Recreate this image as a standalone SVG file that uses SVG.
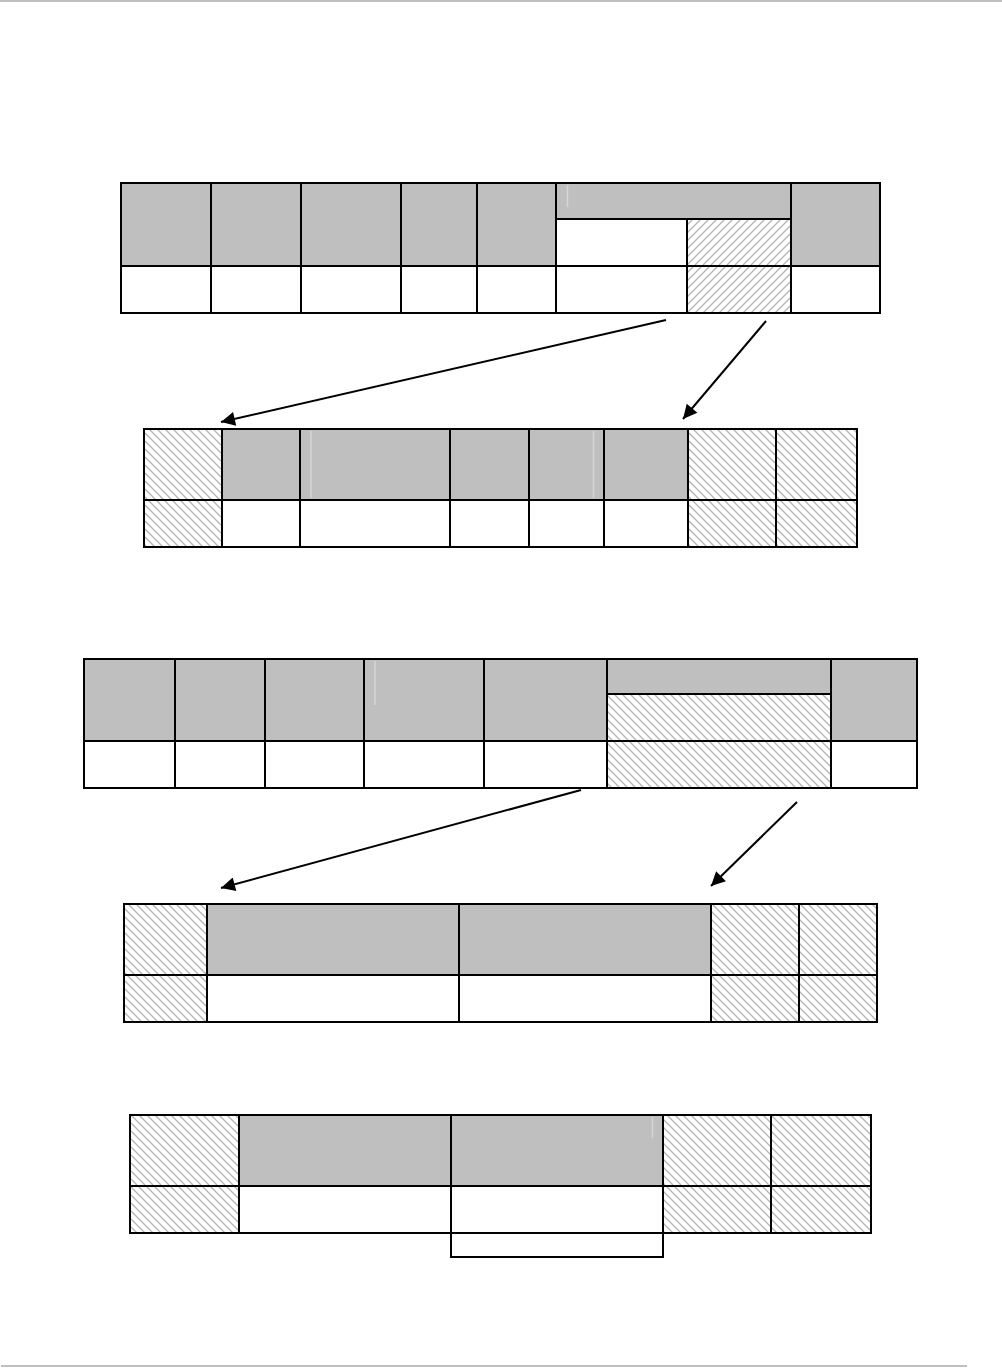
<svg xmlns="http://www.w3.org/2000/svg" width="1002" height="1368" viewBox="0 0 1002 1368">
<defs>
<pattern id="hatchB" patternUnits="userSpaceOnUse" width="8" height="8">
<path d="M-2,-2 L10,10 M-2,6 L2,10 M6,-2 L10,2" stroke="#b3b3b3" stroke-width="1.3" fill="none"/>
</pattern>
<pattern id="hatchF" patternUnits="userSpaceOnUse" width="8" height="8">
<path d="M-2,10 L10,-2 M-2,2 L2,-2 M6,10 L10,6" stroke="#b3b3b3" stroke-width="1.3" fill="none"/>
</pattern>
<marker id="ah" viewBox="0 0 10 10" refX="10" refY="5" markerWidth="9" markerHeight="7" markerUnits="strokeWidth" orient="auto">
<path d="M0,0 L10,5 L0,10 z" fill="#000"/>
</marker>
</defs>
<style>
.g{fill:#bfbfbf;stroke:#000;stroke-width:2}
.w{fill:#fff;stroke:#000;stroke-width:2}
.hb{fill:url(#hatchB);stroke:#000;stroke-width:2}
.hf{fill:url(#hatchF);stroke:#000;stroke-width:2}
.art{stroke:#d6d6d6;stroke-width:1.5}
.con{stroke:#000;stroke-width:2;fill:none;marker-end:url(#ah)}
.rule{fill:#bfbfbf}
</style>
<rect width="1002" height="1368" fill="#fff"/>
<rect class="rule" x="0" y="0" width="1002" height="2"/>
<rect class="rule" x="1" y="1365" width="966" height="2"/>

<g id="table1">
<rect class="g" x="121" y="183" width="90" height="83"/>
<rect class="g" x="211" y="183" width="90" height="83"/>
<rect class="g" x="301" y="183" width="100" height="83"/>
<rect class="g" x="401" y="183" width="76" height="83"/>
<rect class="g" x="477" y="183" width="79" height="83"/>
<rect class="g" x="556" y="183" width="235" height="36"/>
<rect class="w" x="556" y="219" width="131" height="47"/>
<rect class="hf" x="687" y="219" width="104" height="47"/>
<rect class="g" x="791" y="183" width="89" height="83"/>
<rect class="w" x="121" y="266" width="90" height="47"/>
<rect class="w" x="211" y="266" width="90" height="47"/>
<rect class="w" x="301" y="266" width="100" height="47"/>
<rect class="w" x="401" y="266" width="76" height="47"/>
<rect class="w" x="477" y="266" width="79" height="47"/>
<rect class="w" x="556" y="266" width="131" height="47"/>
<rect class="hf" x="687" y="266" width="104" height="47"/>
<rect class="w" x="791" y="266" width="89" height="47"/>
<line class="art" x1="567.5" y1="185" x2="567.5" y2="207"/>
</g>

<g id="table2">
<rect class="hb" x="144" y="429" width="78" height="71"/>
<rect class="g" x="222" y="429" width="78" height="71"/>
<rect class="g" x="300" y="429" width="150" height="71"/>
<rect class="g" x="450" y="429" width="79" height="71"/>
<rect class="g" x="529" y="429" width="75" height="71"/>
<rect class="g" x="604" y="429" width="84" height="71"/>
<rect class="hb" x="688" y="429" width="88" height="71"/>
<rect class="hb" x="776" y="429" width="81" height="71"/>
<rect class="hb" x="144" y="500" width="78" height="47"/>
<rect class="w" x="222" y="500" width="78" height="47"/>
<rect class="w" x="300" y="500" width="150" height="47"/>
<rect class="w" x="450" y="500" width="79" height="47"/>
<rect class="w" x="529" y="500" width="75" height="47"/>
<rect class="w" x="604" y="500" width="84" height="47"/>
<rect class="hb" x="688" y="500" width="88" height="47"/>
<rect class="hb" x="776" y="500" width="81" height="47"/>
<line class="art" x1="311" y1="431" x2="311" y2="498"/>
<line class="art" x1="593.5" y1="431" x2="593.5" y2="498"/>
</g>

<g id="table3">
<rect class="g" x="84" y="659" width="91" height="82"/>
<rect class="g" x="175" y="659" width="90" height="82"/>
<rect class="g" x="265" y="659" width="99" height="82"/>
<rect class="g" x="364" y="659" width="120" height="82"/>
<rect class="g" x="484" y="659" width="123" height="82"/>
<rect class="g" x="607" y="659" width="224" height="35"/>
<rect class="hb" x="607" y="694" width="224" height="47"/>
<rect class="g" x="831" y="659" width="86" height="82"/>
<rect class="w" x="84" y="741" width="91" height="47"/>
<rect class="w" x="175" y="741" width="90" height="47"/>
<rect class="w" x="265" y="741" width="99" height="47"/>
<rect class="w" x="364" y="741" width="120" height="47"/>
<rect class="w" x="484" y="741" width="123" height="47"/>
<rect class="hb" x="607" y="741" width="224" height="47"/>
<rect class="w" x="831" y="741" width="86" height="47"/>
<line class="art" x1="375" y1="661" x2="375" y2="705"/>
</g>

<g id="table4">
<rect class="hb" x="124" y="904" width="83" height="71"/>
<rect class="g" x="207" y="904" width="252" height="71"/>
<rect class="g" x="459" y="904" width="252" height="71"/>
<rect class="hb" x="711" y="904" width="88" height="71"/>
<rect class="hb" x="799" y="904" width="78" height="71"/>
<rect class="hb" x="124" y="975" width="83" height="47"/>
<rect class="w" x="207" y="975" width="252" height="47"/>
<rect class="w" x="459" y="975" width="252" height="47"/>
<rect class="hb" x="711" y="975" width="88" height="47"/>
<rect class="hb" x="799" y="975" width="78" height="47"/>
</g>

<g id="table5">
<rect class="hb" x="130" y="1115" width="109" height="71"/>
<rect class="g" x="239" y="1115" width="212" height="71"/>
<rect class="g" x="451" y="1115" width="212" height="71"/>
<rect class="hb" x="663" y="1115" width="108" height="71"/>
<rect class="hb" x="771" y="1115" width="100" height="71"/>
<rect class="hb" x="130" y="1186" width="109" height="47"/>
<rect class="w" x="239" y="1186" width="212" height="47"/>
<rect class="w" x="451" y="1186" width="212" height="47"/>
<rect class="hb" x="663" y="1186" width="108" height="47"/>
<rect class="hb" x="771" y="1186" width="100" height="47"/>
<rect class="w" x="451" y="1233" width="212" height="24"/>
<line class="art" x1="652.5" y1="1117" x2="652.5" y2="1138"/>
</g>

<g id="connectors">
<line class="con" x1="666" y1="320" x2="221" y2="422"/>
<line class="con" x1="766" y1="321" x2="683" y2="419"/>
<line class="con" x1="581" y1="790" x2="221" y2="888"/>
<line class="con" x1="797" y1="802" x2="711" y2="886"/>
</g>
</svg>
